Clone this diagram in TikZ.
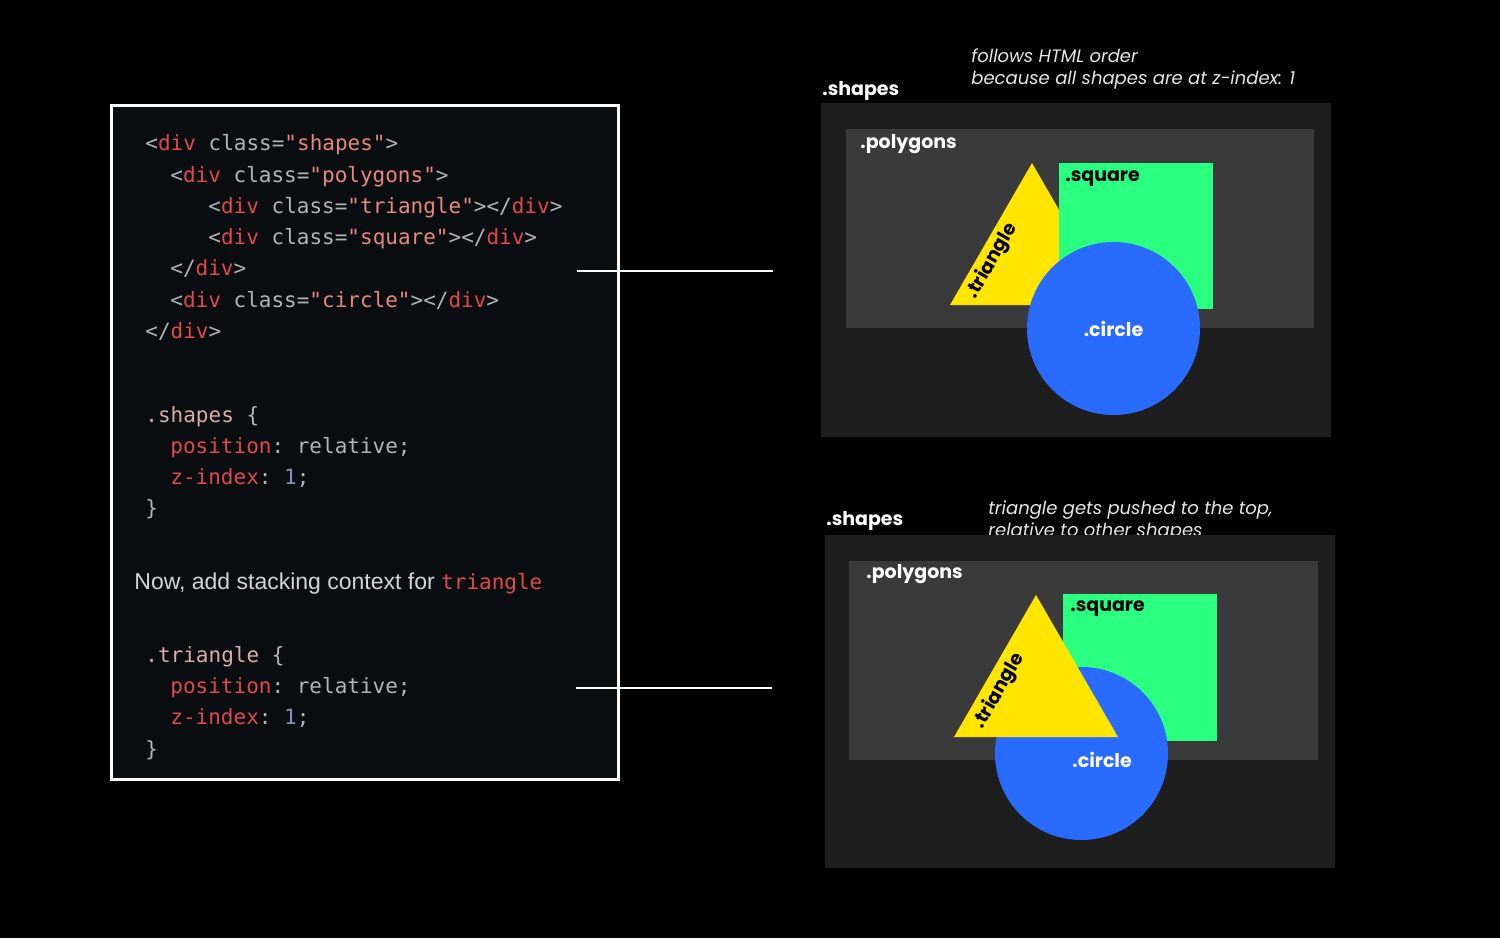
\documentclass[tikz,border=0pt]{standalone}
\usepackage{fontspec}
\setmainfont{Liberation Sans}
\setmonofont{DejaVu Sans Mono}
\newfontfamily\tagfont{Poppins}
\usepackage{xcolor}
\usetikzlibrary{positioning}
\definecolor{codebg}{HTML}{0B0E11}
\definecolor{codegray}{HTML}{B4B4B4}
\definecolor{codered}{HTML}{E0484C}
\definecolor{codestr}{HTML}{E8877F}
\definecolor{codesel}{HTML}{D9ACA8}
\definecolor{codenum}{HTML}{7F8FC4}
\definecolor{prosegray}{HTML}{D4D4D4}
\definecolor{panelbg}{HTML}{1E1E1E}
\definecolor{polybg}{HTML}{3A3A3A}
\definecolor{shapeyellow}{HTML}{FFE500}
\definecolor{shapegreen}{HTML}{2AFF80}
\definecolor{shapeblue}{HTML}{2A6BFF}
\definecolor{notegray}{HTML}{E6E6E6}
\newcommand{\ctag}[1]{\textcolor{codered}{#1}}
\newcommand{\cstr}[1]{\textcolor{codestr}{#1}}
\newcommand{\csel}[1]{\textcolor{codesel}{#1}}
\newcommand{\cnum}[1]{\textcolor{codenum}{#1}}
\tikzset{
    codeline/.style={
        anchor=base west,
        inner sep=0pt,
        text=codegray,
        font=\ttfamily\fontsize{10.5}{12}\selectfont
    },
    prose/.style={
        anchor=base west,
        inner sep=0pt,
        text=prosegray,
        font=\fontsize{11.5}{13}\selectfont
    },
    tag/.style={
        anchor=base west,
        inner sep=0pt,
        text=white,
        font=\tagfont\bfseries\fontsize{9.5}{11}\selectfont
    },
    darktag/.style={tag, text=black},
    note/.style={
        anchor=north west,
        inner sep=0pt,
        align=left,
        text=notegray,
        font=\tagfont\itshape\fontsize{9}{11.3}\selectfont
    },
    link/.style={white, line width=1pt}
}

\begin{document}
\begin{tikzpicture}[x=0.5pt, y=-0.5pt]
    \fill[black] (0,0) rectangle (1500,938);
    \useasboundingbox (0,0) rectangle (1500,938);

    % code panel
    \draw[white, line width=1.5pt, fill=codebg] (111.5,105.5) rectangle (618.5,779.5);
    \node[codeline] (l1) at (145,150) {<\ctag{div} class=\cstr{"shapes"}>};
    \node[codeline] (l2) at (170,182) {<\ctag{div} class=\cstr{"polygons"}>};
    \node[codeline] (l3) at (208,213) {<\ctag{div} class=\cstr{"triangle"}></\ctag{div}>};
    \node[codeline] (l4) at (208,244) {<\ctag{div} class=\cstr{"square"}></\ctag{div}>};
    \node[codeline] (l5) at (170,275) {</\ctag{div}>};
    \node[codeline] (l6) at (170,307) {<\ctag{div} class=\cstr{"circle"}></\ctag{div}>};
    \node[codeline] (l7) at (145,338) {</\ctag{div}>};

    \node[codeline] (l8) at (145,422) {\csel{.shapes} \{};
    \node[codeline] (l9) at (170,453) {\ctag{position}: relative;};
    \node[codeline] (l10) at (170,484) {\ctag{z-index}: \cnum{1};};
    \node[codeline] (l11) at (145,515) {\}};

    \node[prose] (now) at (134,589)
        {Now, add stacking context for \texttt{\fontsize{10.5}{12}\selectfont\ctag{triangle}}};

    \node[codeline] (l12) at (145,662) {\csel{.triangle} \{};
    \node[codeline] (l13) at (170,693) {\ctag{position}: relative;};
    \node[codeline] (l14) at (170,724) {\ctag{z-index}: \cnum{1};};
    \node[codeline] (l15) at (145,756) {\}};

    % connectors
    \coordinate (linkA1) at (577,271);
    \coordinate (linkA2) at (773,271);
    \coordinate (linkB1) at (576,688);
    \coordinate (linkB2) at (772,688);
    \draw[link] (linkA1) -- (linkA2);
    \draw[link] (linkB1) -- (linkB2);

    % top: html order
    \node[note] (noteA) at (971,48)
        {follows HTML order\\because all shapes are at z-index: 1};
    \node[tag] (shapesA) at (822,95) {.shapes};
    \fill[panelbg] (821,103) rectangle (1331,437);
    \fill[polybg] (846,129) rectangle (1314,328);
    \node[tag] (polyA) at (860,148) {.polygons};
    \fill[shapeyellow] (950,305) -- (1032,163) -- (1114,305) -- cycle;
    \node[darktag, anchor=center, rotate=60] (triA) at (992,261) {.triangle};
    \fill[shapegreen] (1059,163) rectangle (1213,309);
    \node[darktag] (sqA) at (1065,181) {.square};
    \fill[shapeblue] (1113.5,328.5) circle[radius=43.25pt];
    \node[tag, anchor=center] (circA) at (1113.5,329) {.circle};

    % bottom: triangle on top
    \node[note] (noteB) at (988,500)
        {triangle gets pushed to the top,\\relative to other shapes};
    \node[tag] (shapesB) at (826,525) {.shapes};
    \fill[panelbg] (825,535) rectangle (1335,868);
    \fill[polybg] (849,561) rectangle (1318,760);
    \node[tag] (polyB) at (866,578) {.polygons};
    \fill[shapegreen] (1063,594) rectangle (1217,741);
    \node[darktag] (sqB) at (1070,611) {.square};
    \fill[shapeblue] (1081.5,753.5) circle[radius=43.25pt];
    \node[tag] (circB) at (1072,767) {.circle};
    \fill[shapeyellow] (954,737) -- (1036,595) -- (1118,737) -- cycle;
    \node[darktag, anchor=center, rotate=60] (triB) at (999,691) {.triangle};
\end{tikzpicture}
\end{document}
